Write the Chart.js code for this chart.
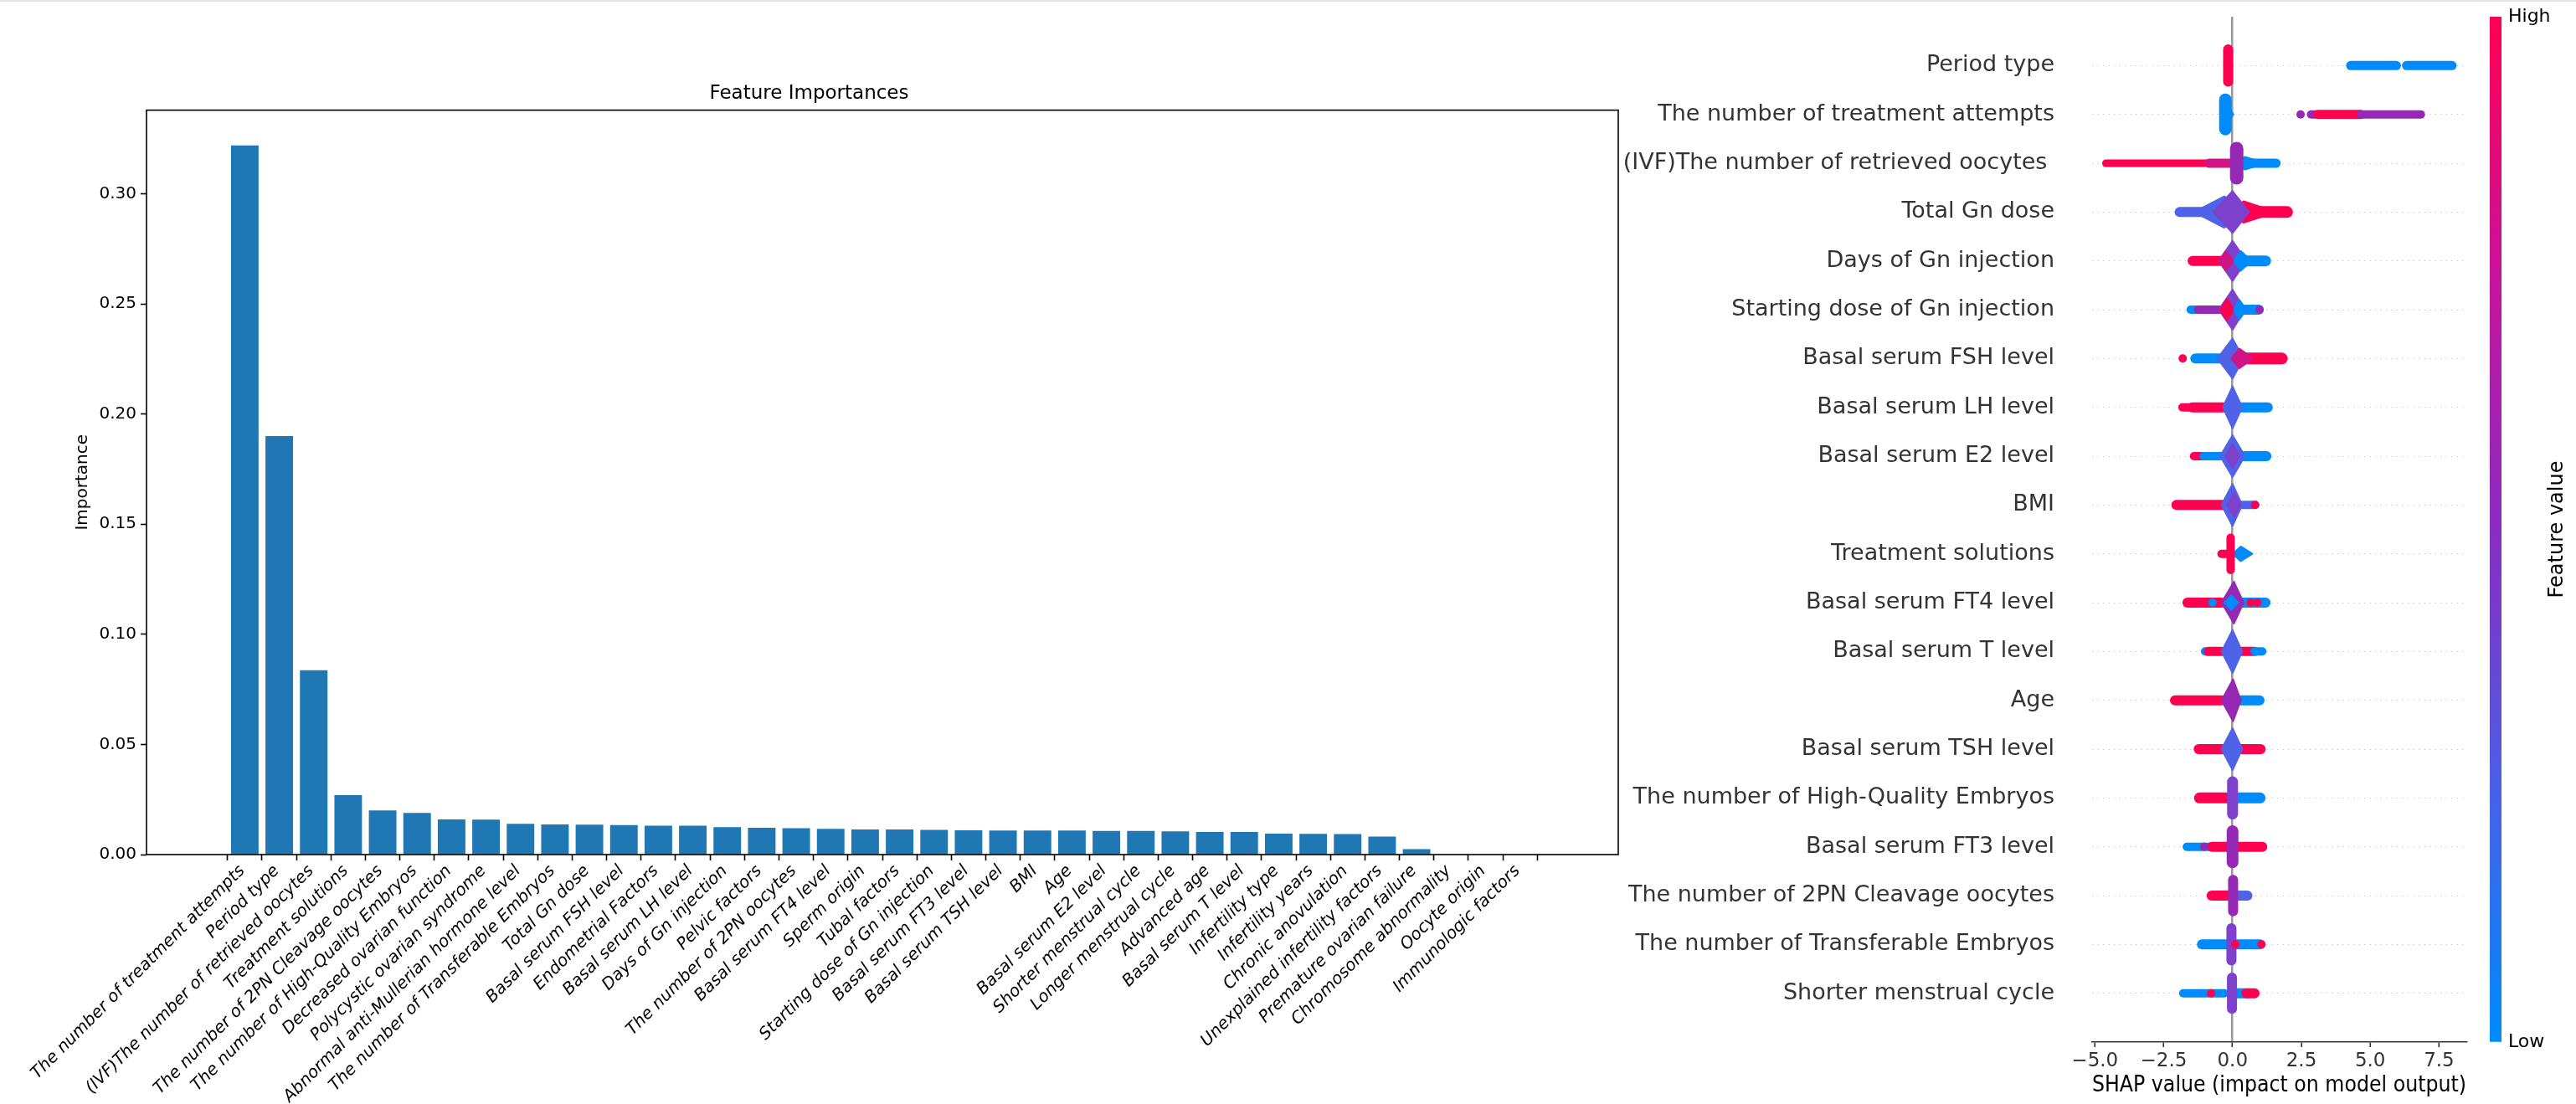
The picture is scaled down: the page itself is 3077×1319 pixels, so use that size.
<!DOCTYPE html>
<html>
<head>
<meta charset="utf-8">
<title>Feature Importances and SHAP summary</title>
<script src="https://cdn.jsdelivr.net/npm/chart.js@4.4.1/dist/chart.umd.min.js"></script>
<style>
  html, body { margin: 0; padding: 0; background: #fff; }
  body { width: 3077px; height: 1319px; position: relative; overflow: hidden; }
  canvas { position: absolute; top: 0; }
  #topline { position: absolute; left: 0; top: 0; width: 3077px; height: 2px; background: #e2e2e2; }
  #importances { left: 0; }
  #shap { left: 1940px; }
  #colorbar { left: 2960px; }
</style>
</head>
<body>
<div id="topline"></div>
<canvas id="importances" width="1950" height="1319"></canvas>
<canvas id="shap" width="1020" height="1319"></canvas>
<canvas id="colorbar" width="117" height="1319"></canvas>
<script>
// Data: Feature Importances (left panel)
const featureNames = [
  'The number of treatment attempts', 'Period type', '(IVF)The number of retrieved oocytes',
  'Treatment solutions', 'The number of 2PN Cleavage oocytes', 'The number of High-Quality Embryos',
  'Decreased ovarian function', 'Polycystic ovarian syndrome', 'Abnormal anti-Mullerian hormone level',
  'The number of Transferable Embryos', 'Total Gn dose', 'Basal serum FSH level', 'Endometrial Factors',
  'Basal serum LH level', 'Days of Gn injection', 'Pelvic factors', 'The number of 2PN oocytes',
  'Basal serum FT4 level', 'Sperm origin', 'Tubal factors', 'Starting dose of Gn injection',
  'Basal serum FT3 level', 'Basal serum TSH level', 'BMI', 'Age', 'Basal serum E2 level',
  'Shorter menstrual cycle', 'Longer menstrual cycle', 'Advanced age', 'Basal serum T level',
  'Infertility type', 'Infertility years', 'Chronic anovulation', 'Unexplained infertility factors',
  'Premature ovarian failure', 'Chromosome abnormality', 'Oocyte origin', 'Immunologic factors'
];
const importances = [
  0.322, 0.190, 0.0837, 0.027, 0.0200, 0.0189, 0.0160, 0.0159, 0.0140, 0.0137,
  0.0136, 0.0134, 0.0131, 0.0131, 0.0124, 0.0122, 0.0120, 0.0117, 0.0114, 0.0114,
  0.0112, 0.0110, 0.0109, 0.0109, 0.0109, 0.0107, 0.0107, 0.0105, 0.0103, 0.0103,
  0.0095, 0.0094, 0.0093, 0.0082, 0.0025, 0, 0, 0
];
const importanceTicks = [0, 0.05, 0.10, 0.15, 0.20, 0.25, 0.30];

// Data: SHAP summary (right panel), top row first
const shapFeatures = [
  'Period type', 'The number of treatment attempts', '(IVF)The number of retrieved oocytes ',
  'Total Gn dose', 'Days of Gn injection', 'Starting dose of Gn injection', 'Basal serum FSH level',
  'Basal serum LH level', 'Basal serum E2 level', 'BMI', 'Treatment solutions', 'Basal serum FT4 level',
  'Basal serum T level', 'Age', 'Basal serum TSH level', 'The number of High-Quality Embryos',
  'Basal serum FT3 level', 'The number of 2PN Cleavage oocytes', 'The number of Transferable Embryos',
  'Shorter menstrual cycle'
];
const shapTicks = [-5, -2.5, 0, 2.5, 5, 7.5];

// horizontal runs of dots: [row, from, to, thickness, colour]
const shapRuns = [
  [0, 4.29, 5.95, 11, 'b'], [0, 6.32, 7.97, 11, 'b'],
  [1, 2.85, 3.10, 10, 'p'], [1, 3.10, 4.66, 11, 'r'], [1, 4.66, 6.84, 10, 'p'],
  [2, -4.6, -0.8, 9, 'r'], [2, -0.85, -0.1, 11, 'm'], [2, 0.3, 1.58, 11, 'b'],
  [3, -1.92, -0.3, 12, 'bp'], [3, 0.3, 1.98, 14, 'r'],
  [4, -1.45, -0.3, 12, 'r'], [4, 0.3, 1.2, 13, 'b'],
  [5, -1.52, -1.2, 10, 'b'], [5, -1.25, -0.45, 10, 'p'], [5, 0.3, 0.95, 12, 'b'],
  [6, -1.35, -0.3, 12, 'b'], [6, 0.25, 1.79, 14, 'r'],
  [7, -1.82, -1.58, 10, 'r'], [7, -1.47, -0.3, 12, 'r'], [7, 0.3, 1.28, 12, 'b'],
  [8, -1.4, -1.05, 10, 'r'], [8, -1.05, -0.4, 10, 'b'], [8, 0.3, 1.23, 12, 'b'],
  [9, -2.04, -0.3, 12, 'r'], [9, 0.2, 0.82, 10, 'bp'],
  [10, -0.4, 0.0, 10, 'r'],
  [11, -1.64, -0.4, 12, 'r'], [11, 0.3, 1.2, 12, 'b'],
  [12, -1.0, -0.85, 10, 'b'], [12, -0.88, -0.4, 11, 'r'], [12, 0.3, 0.8, 11, 'r'], [12, 0.8, 1.08, 10, 'b'],
  [13, -2.09, -0.4, 12, 'r'], [13, 0.25, 0.98, 12, 'b'],
  [14, -1.23, -0.35, 12, 'r'], [14, 0.3, 1.02, 12, 'r'],
  [15, -1.2, -0.25, 13, 'r'], [15, 0.2, 1.0, 13, 'b'],
  [16, -1.66, -0.75, 10, 'b'], [16, -0.75, -0.2, 12, 'r'], [16, 0.15, 1.08, 12, 'r'],
  [17, -0.76, -0.15, 12, 'r'], [17, 0.15, 0.54, 12, 'bp'],
  [18, -1.11, 1.0, 12, 'b'],
  [19, -1.79, -0.3, 10, 'b'], [19, 0.15, 0.5, 12, 'b'], [19, 0.5, 0.8, 12, 'r']
];
// dense swarm cores: [row, left, middle, right, half height (rows), colour]
const shapCores = [
  [1, -0.45, -0.15, 0.03, 0.15, 'b'],
  [2, 0.1, 0.45, 1.2, 0.13, 'b'],
  [3, -1.4, -0.3, 0.5, 0.32, 'bp'], [3, -0.1, 0.4, 1.6, 0.22, 'r'], [3, -0.7, 0.0, 0.6, 0.43, 'v'],
  [4, -0.5, 0.0, 0.5, 0.41, 'v'], [4, -0.5, -0.25, 0.05, 0.2, 'm'], [4, 0.05, 0.3, 0.7, 0.2, 'b'],
  [5, -0.5, 0.0, 0.45, 0.41, 'v'], [5, -0.45, -0.2, 0.05, 0.22, 'r'], [5, 0.05, 0.25, 0.5, 0.2, 'b'],
  [6, -0.55, 0.0, 0.4, 0.41, 'bp'], [6, -0.05, 0.25, 0.75, 0.2, 'm'],
  [7, -0.35, 0.0, 0.35, 0.43, 'bp'],
  [8, -0.45, 0.0, 0.45, 0.43, 'bp'], [8, -0.25, 0.0, 0.25, 0.25, 'v'],
  [9, -0.4, 0.0, 0.35, 0.43, 'bp'], [9, -0.2, 0.05, 0.3, 0.25, 'v'],
  [10, 0.0, 0.3, 0.72, 0.15, 'b'],
  [11, -0.4, 0.05, 0.4, 0.43, 'p'], [11, -0.3, -0.05, 0.2, 0.15, 'b'],
  [12, -0.4, 0.0, 0.35, 0.44, 'bp'],
  [13, -0.4, 0.02, 0.3, 0.43, 'p'],
  [14, -0.4, 0.0, 0.35, 0.43, 'bp']
];
// narrow vertical stacks: [row, x, half height (rows), width, colour]
const shapStacks = [
  [0, -0.16, 0.33, 12, 'r'], [1, -0.26, 0.30, 15, 'b'], [2, 0.15, 0.30, 16, 'p'],
  [10, -0.07, 0.33, 10, 'r'], [15, 0.0, 0.33, 13, 'v'], [16, 0.0, 0.32, 14, 'p'],
  [17, 0.02, 0.32, 12, 'p'], [18, -0.04, 0.33, 12, 'v'], [19, -0.02, 0.32, 12, 'v']
];
// single dots: [row, x, colour]
const shapDots = [
  [1, 2.47, 'p'], [5, 0.98, 'p'], [6, -1.81, 'r'], [9, 0.82, 'r'],
  [11, -0.73, 'b'], [11, 0.66, 'r'], [11, 0.9, 'r'], [16, -1.03, 'p'],
  [18, 1.05, 'r'], [18, 0.1, 'r'], [19, -0.78, 'r']
];

const swarmColours = { b: '#008bfb', r: '#ff0051', p: '#9529b3', v: '#7d41cc', bp: '#4f63e8', m: '#cf1585' };
const colourStops = ['#008bfb', '#4a5fe6', '#8a2cc2', '#c8129a', '#ff0051'];

Chart.defaults.font.family = '"DejaVu Sans", sans-serif';
Chart.defaults.color = '#000';

// box around the bar chart plot area
const frame = {
  id: 'frame',
  afterDraw(chart) {
    const { ctx, chartArea: a } = chart;
    ctx.save();
    ctx.strokeStyle = '#000';
    ctx.lineWidth = 1.6;
    ctx.strokeRect(a.left, a.top, a.right - a.left, a.bottom - a.top);
    ctx.restore();
  }
};

new Chart(document.getElementById('importances'), {
  type: 'bar',
  data: {
    datasets: [{
      data: importances.map((v, i) => ({ x: i, y: v })),
      backgroundColor: '#1f77b4',
      barPercentage: 0.8,
      categoryPercentage: 1
    }]
  },
  options: {
    responsive: false,
    animation: false,
    devicePixelRatio: 1,
    layout: { padding: { top: 98, right: 17, left: 0, bottom: 0 } },
    plugins: {
      legend: { display: false },
      tooltip: { enabled: false },
      title: {
        display: true, text: 'Feature Importances', color: '#000',
        font: { size: 23, weight: 'normal' }, padding: { top: 0, bottom: 6 }
      }
    },
    scales: {
      x: {
        type: 'linear', min: -2.29, max: 39.29,
        afterBuildTicks: s => { s.ticks = featureNames.map((_, i) => ({ value: i })); },
        afterFit: s => { s.height = 298; },
        grid: { drawOnChartArea: false, tickLength: 7, tickColor: '#000', tickWidth: 1.6 },
        border: { display: false },
        ticks: {
          autoSkip: false, minRotation: 45, maxRotation: 45, padding: 1, labelOffset: -3,
          font: { size: 20, style: 'italic' },
          callback: v => featureNames[v]
        }
      },
      y: {
        min: 0, max: 0.338,
        afterBuildTicks: s => { s.ticks = importanceTicks.map(v => ({ value: v })); },
        afterFit: s => { s.width = 175; },
        grid: { drawOnChartArea: false, tickLength: 7, tickColor: '#000', tickWidth: 1.6 },
        border: { display: false },
        ticks: { padding: 5, font: { size: 20 }, callback: v => v.toFixed(2) },
        title: { display: true, text: 'Importance', font: { size: 20 }, padding: { top: 87, bottom: 0 } }
      }
    }
  },
  plugins: [frame]
});

// SHAP beeswarm: runs, cores, stacks and dots, later ones drawn on top
const shapSets = [];
shapRuns.forEach(([row, from, to, w, c]) => shapSets.push({
  type: 'line',
  data: [{ x: from, y: row }, { x: to, y: row }],
  borderColor: swarmColours[c], borderWidth: w, borderCapStyle: 'round',
  pointRadius: 0, fill: false
}));
shapCores.forEach(([row, l, m, r, h, c]) => shapSets.push({
  type: 'line',
  data: [{ x: l, y: row }, { x: m, y: row - h }, { x: r, y: row }, { x: m, y: row + h }, { x: l, y: row }],
  borderColor: swarmColours[c], backgroundColor: swarmColours[c], borderWidth: 2,
  borderJoinStyle: 'round', pointRadius: 0, fill: 'shape'
}));
shapStacks.forEach(([row, x, h, w, c]) => shapSets.push({
  type: 'line',
  data: [{ x: x, y: row - h }, { x: x, y: row + h }],
  borderColor: swarmColours[c], borderWidth: w, borderCapStyle: 'round',
  pointRadius: 0, fill: false
}));
shapDots.forEach(([row, x, c]) => shapSets.push({
  type: 'scatter',
  data: [{ x: x, y: row }],
  backgroundColor: swarmColours[c], borderWidth: 0, pointRadius: 5
}));
shapSets.forEach((d, i) => { d.order = -i; });

new Chart(document.getElementById('shap'), {
  type: 'scatter',
  data: { datasets: shapSets },
  options: {
    responsive: false,
    animation: false,
    devicePixelRatio: 1,
    layout: { padding: { top: 20, right: 14, left: 0, bottom: 0 } },
    plugins: { legend: { display: false }, tooltip: { enabled: false } },
    scales: {
      x: {
        type: 'linear', min: -5.1, max: 8.49,
        afterBuildTicks: s => { s.ticks = shapTicks.map(v => ({ value: v })); },
        afterFit: s => { s.height = 74; },
        grid: {
          color: c => (c.tick && c.tick.value === 0 ? '#999999' : 'rgba(0,0,0,0)'),
          lineWidth: 2.5, tickLength: 6, tickColor: '#333333', tickWidth: 1.6
        },
        border: { display: true, color: '#333333', width: 1.6 },
        ticks: {
          padding: 3, color: '#333333', font: { size: 23 },
          callback: v => (v < 0 ? '\u2212' : '') + Math.abs(v).toFixed(1)
        },
        title: {
          display: true, text: 'SHAP value (impact on model output)', color: '#000',
          font: { size: 27 }, padding: { top: 0, bottom: 6 }
        }
      },
      y: {
        type: 'linear', reverse: true, min: -1, max: 20,
        afterBuildTicks: s => { s.ticks = shapFeatures.map((_, i) => ({ value: i })); },
        afterFit: s => { s.width = 559; },
        // invisible tick marks keep the names away from the plot
        grid: { color: '#cccccc', lineWidth: 1, drawTicks: true, tickLength: 45, tickColor: 'rgba(0,0,0,0)' },
        border: { display: false, dash: [1.5, 5] },
        ticks: { padding: 0, color: '#333333', font: { size: 27 }, callback: v => shapFeatures[v] }
      }
    }
  }
});

// rotated colour bar label, reading bottom to top
const colourbarLabel = {
  id: 'colourbarLabel',
  afterDraw(chart) {
    const { ctx, chartArea: a } = chart;
    ctx.save();
    ctx.translate(a.right + 67, (a.top + a.bottom) / 2);
    ctx.rotate(-Math.PI / 2);
    ctx.font = '24px "DejaVu Sans"';
    ctx.fillStyle = '#000';
    ctx.textAlign = 'center';
    ctx.textBaseline = 'middle';
    ctx.fillText('Feature value', 0, 0);
    ctx.restore();
  }
};

new Chart(document.getElementById('colorbar'), {
  type: 'bar',
  data: {
    labels: [''],
    datasets: [{
      data: [[0, 1]],
      barPercentage: 1,
      categoryPercentage: 1,
      backgroundColor: c => {
        const a = c.chart.chartArea;
        if (!a) return colourStops[0];
        const g = c.chart.ctx.createLinearGradient(0, a.bottom, 0, a.top);
        colourStops.forEach((col, i) => g.addColorStop(i / (colourStops.length - 1), col));
        return g;
      }
    }]
  },
  options: {
    responsive: false,
    animation: false,
    devicePixelRatio: 1,
    layout: { padding: { top: 20, left: 14, right: 0, bottom: 74 } },
    plugins: { legend: { display: false }, tooltip: { enabled: false } },
    scales: {
      x: { display: false },
      y: {
        position: 'right', min: 0, max: 1,
        afterBuildTicks: s => { s.ticks = [{ value: 0 }, { value: 1 }]; },
        afterFit: s => { s.width = 89; },
        grid: { display: true, drawOnChartArea: false, drawTicks: true, tickLength: 8, tickColor: 'rgba(0,0,0,0)' },
        border: { display: false },
        ticks: { padding: 0, font: { size: 22 }, callback: v => (v === 1 ? 'High' : 'Low') }
      }
    }
  },
  plugins: [colourbarLabel]
});
</script>
</body>
</html>
